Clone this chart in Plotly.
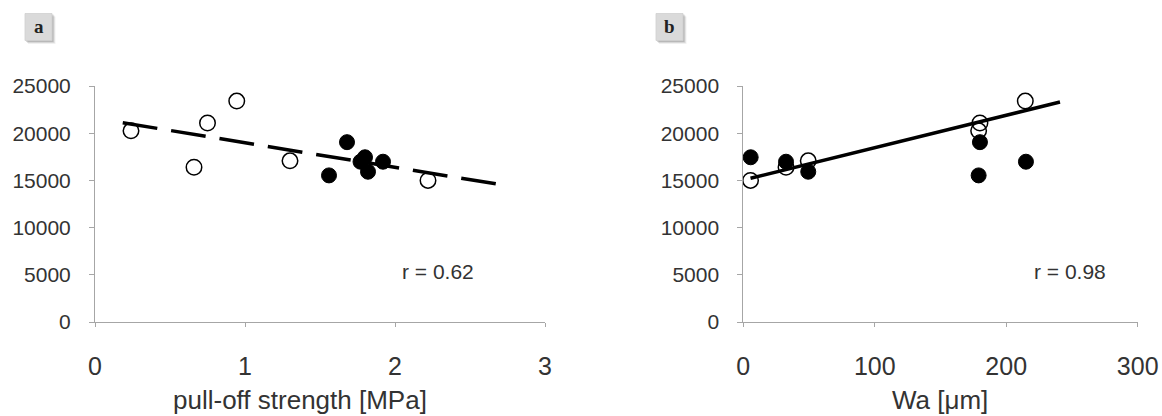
import plotly.graph_objects as go

# ---------------- data ----------------
# open circles (samples)
pull_off_open = [2.22, 0.66, 1.30, 0.24, 0.75, 0.945]
wa_open = [5.5, 32.5, 49.4, 179.0, 180.0, 214.5]
force_open = [15000, 16400, 17070, 20250, 21080, 23400]

# filled circles (samples)
pull_off_filled = [1.80, 1.77, 1.82, 1.56, 1.68, 1.92]
wa_filled = [5.6, 32.5, 49.4, 179.0, 180.0, 215.0]
force_filled = [17450, 16980, 15920, 15530, 19050, 16980]

# trend lines (end points)
trend_a_x = [0.185, 2.72]
trend_a_y = [21110, 14510]
trend_b_x = [5.5, 240.9]
trend_b_y = [15220, 23300]

x_a_ticks = [0, 1, 2, 3]
x_b_ticks = [0, 100, 200, 300]
y_ticks = [0, 5000, 10000, 15000, 20000, 25000]

r_a_text = "r = 0.62"
r_b_text = "r = 0.98"
x_a_title = "pull-off strength [MPa]"
x_b_title = "Wa [μm]"
panel_labels = ["a", "b"]

# ---------------- layout helpers ----------------
W, H = 1162, 416
def px(x):
    return x / W
def py(y):
    return 1 - y / H

AX = "#a6a6a6"
TXT = "#333333"
FONT = "Liberation Sans, Arial, sans-serif"

fig = go.Figure()

open_marker = dict(symbol="circle-open", size=15.5, color="black", line=dict(width=1.5, color="black"))
filled_marker = dict(symbol="circle", size=15, color="black", line=dict(width=1, color="black"))

# panel a
fig.add_trace(go.Scatter(x=pull_off_open, y=force_open, mode="markers", marker=open_marker,
                         xaxis="x", yaxis="y", cliponaxis=False, showlegend=False))
fig.add_trace(go.Scatter(x=pull_off_filled, y=force_filled, mode="markers", marker=filled_marker,
                         xaxis="x", yaxis="y", cliponaxis=False, showlegend=False))
fig.add_trace(go.Scatter(x=trend_a_x, y=trend_a_y, mode="lines",
                         line=dict(color="black", width=3.5, dash="35px,14px"),
                         xaxis="x", yaxis="y", cliponaxis=False, showlegend=False))
# panel b
fig.add_trace(go.Scatter(x=wa_open, y=force_open, mode="markers", marker=open_marker,
                         xaxis="x2", yaxis="y2", cliponaxis=False, showlegend=False))
fig.add_trace(go.Scatter(x=wa_filled, y=force_filled, mode="markers", marker=filled_marker,
                         xaxis="x2", yaxis="y2", cliponaxis=False, showlegend=False))
fig.add_trace(go.Scatter(x=trend_b_x, y=trend_b_y, mode="lines",
                         line=dict(color="black", width=3.5),
                         xaxis="x2", yaxis="y2", cliponaxis=False, showlegend=False))

ydom = [py(322), py(86)]
common_x = dict(showgrid=False, zeroline=False, showline=True, linecolor=AX, linewidth=1,
                ticks="outside", ticklen=4, tickcolor=AX, tickwidth=1, automargin=False,
                tickfont=dict(family=FONT, size=25, color=TXT), ticklabelstandoff=18)
common_y = dict(showgrid=False, zeroline=False, showline=True, linecolor=AX, linewidth=1,
                ticks="outside", ticklen=5, tickcolor=AX, tickwidth=1, automargin=False,
                tickmode="array", tickvals=y_ticks, ticktext=[str(v) for v in y_ticks],
                range=[0, 25000], domain=ydom,
                tickfont=dict(family=FONT, size=21, color=TXT), ticklabelstandoff=14)

fig.update_layout(
    width=W, height=H, autosize=False,
    margin=dict(l=0, r=0, t=0, b=0, pad=0),
    paper_bgcolor="white", plot_bgcolor="white",
    xaxis=dict(domain=[px(95), px(545)], range=[0, 3], tickmode="array", tickvals=x_a_ticks,
               ticktext=[str(v) for v in x_a_ticks], anchor="y", **common_x),
    yaxis=dict(anchor="x", **common_y),
    xaxis2=dict(domain=[px(743.3), px(1137.7)], range=[0, 300], tickmode="array", tickvals=x_b_ticks,
                ticktext=[str(v) for v in x_b_ticks], anchor="y2", **common_x),
    yaxis2=dict(anchor="x2", **common_y),
)

annotations = [
    dict(text=r_a_text, x=2.287, y=5400, xref="x", yref="y", showarrow=False,
         font=dict(family=FONT, size=21, color=TXT)),
    dict(text=r_b_text, x=248.5, y=5300, xref="x2", yref="y2", showarrow=False,
         font=dict(family=FONT, size=21, color=TXT)),
    dict(text=x_a_title, x=px(300), y=py(400), xref="paper", yref="paper", showarrow=False,
         xanchor="center", yanchor="middle", font=dict(family=FONT, size=26, color=TXT)),
    dict(text=x_b_title, x=px(940), y=py(400), xref="paper", yref="paper", showarrow=False,
         xanchor="center", yanchor="middle", font=dict(family=FONT, size=26, color=TXT)),
]

shapes = []
boxes = [(25, 13.5, 52, 40.5), (656, 13.5, 683, 40.5)]
for (x0, y0, x1, y1), lab in zip(boxes, panel_labels):
    # soft shadow
    for off, alpha in [(3.5, 0.06), (2.5, 0.10), (1.5, 0.14)]:
        shapes.append(dict(type="rect", xref="paper", yref="paper",
                           x0=px(x0 + off - 0.5), x1=px(x1 + off), y0=py(y1 + off), y1=py(y0 + off - 0.5),
                           line=dict(width=0), fillcolor=f"rgba(0,0,0,{alpha})", layer="below"))
    shapes.append(dict(type="rect", xref="paper", yref="paper",
                       x0=px(x0), x1=px(x1), y0=py(y1), y1=py(y0),
                       line=dict(width=0.8, color="#cfcfcf"), fillcolor="#dadada", layer="below"))
    annotations.append(dict(text=f"<b>{lab}</b>", x=px((x0 + x1) / 2), y=py((y0 + y1) / 2 - 1),
                            xref="paper", yref="paper", showarrow=False,
                            xanchor="center", yanchor="middle",
                            font=dict(family="Liberation Serif, Times New Roman, serif", size=19, color="#222222")))

fig.update_layout(annotations=annotations, shapes=shapes)

# remove the default 8px page margin so the 1162x416 figure fills the window exactly
fig.write_html("out.html", config={"displayModeBar": False},
               post_script="document.body.style.margin='0';document.body.style.overflow='hidden';")
